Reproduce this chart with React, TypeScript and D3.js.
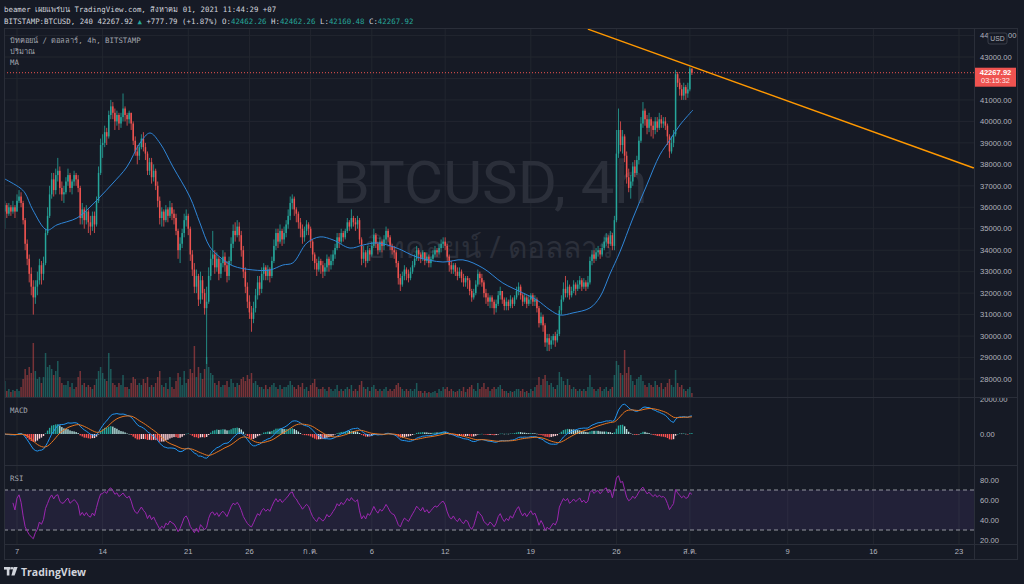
import React from "react";
import * as d3 from "d3";

const W = 1024;
const H = 584;
const START = Date.UTC(2021, 5, 6); // open time of first 4h candle
const BAR_MS = 4 * 3600 * 1000;

// ---- price data (thousands USD), 4h candles June 6 -> Aug 1 2021 ----
const firstOpen = 35.8;
const closes = [
  36.1, 35.7, 36.0, 35.8, 36.0, 35.8,
  36.3, 36.5, 36.2, 35.4, 34.3, 33.6,
  32.9, 32.3, 31.8, 32.3, 32.6, 33.3,
  32.9, 33.4, 34.8, 35.6, 36.6, 37.3,
  36.8, 37.5, 37.7, 36.9, 36.6, 36.7,
  37.2, 37.5, 36.9, 37.2, 37.5, 37.3,
  36.9, 35.5, 35.9, 35.4, 35.8, 35.3,
  35.1, 35.6, 35.2, 36.3, 37.6, 38.9,
  39.0, 39.5, 39.3, 40.3, 40.7, 40.4,
  40.0, 40.3, 39.9, 40.2, 40.6, 40.3,
  40.1, 40.4, 39.9, 39.1, 38.6, 38.4,
  38.8, 39.2, 38.8, 38.5, 37.7, 38.1,
  37.4, 37.7, 37.0, 36.3, 35.5, 35.8,
  35.4, 35.9, 35.6, 36.0, 35.7, 35.5,
  34.9, 34.0, 34.3, 34.8, 35.4, 35.6,
  35.0, 33.8, 33.1, 32.3, 32.8, 31.7,
  32.6, 32.0, 31.3, 31.6, 32.8, 33.6,
  33.8, 33.2, 33.6, 32.9, 33.4, 33.7,
  33.3, 32.8, 33.5, 34.3, 34.9, 34.7,
  35.1, 34.7, 34.0, 33.0, 32.3, 31.6,
  31.1, 30.8, 31.3, 31.9, 32.5, 32.2,
  32.9, 33.2, 32.8, 33.1, 32.8, 33.5,
  34.2, 34.8, 34.4, 34.9, 34.5, 34.8,
  35.2, 35.6, 36.2, 36.4, 35.9, 35.7,
  35.3, 35.0, 34.6, 34.9, 35.2, 35.0,
  34.4, 33.8, 33.4, 33.1, 33.5, 33.3,
  33.0, 33.2, 33.6, 33.3, 33.5, 33.8,
  34.1, 34.6, 34.4, 34.8, 34.6, 34.9,
  35.3, 35.1, 35.5, 35.3, 35.2, 35.4,
  34.5, 33.6, 33.9, 33.5, 34.0, 33.8,
  34.2, 34.7, 34.3, 34.0, 34.4, 34.2,
  34.5, 34.9, 34.6, 34.2, 34.0, 33.9,
  33.4, 32.7, 32.4, 32.8, 33.1, 32.9,
  32.7, 33.0, 33.3, 33.6, 34.0, 33.8,
  33.6, 33.9, 33.5, 33.7, 33.4, 33.6,
  33.8, 34.0, 33.9, 34.1, 34.3, 34.4,
  34.2, 33.7, 33.3, 33.1, 33.3, 33.0,
  32.8, 33.0, 32.7, 32.5, 32.7, 32.6,
  32.1, 31.8, 32.0, 32.4, 32.9, 32.7,
  32.5, 32.0, 31.8, 31.6, 31.8, 31.6,
  31.3, 31.5, 31.9, 32.1, 31.7, 31.4,
  31.6, 31.4, 31.7, 31.5, 31.8, 32.1,
  32.3, 31.9, 31.6, 31.8, 31.5, 31.7,
  31.9, 31.6, 31.7, 31.3, 30.6, 30.9,
  30.5, 29.7, 29.9, 29.6, 29.8, 30.0,
  29.8, 30.1, 31.2, 31.7, 32.2, 32.0,
  32.3, 31.9, 32.1, 32.4, 32.2, 32.4,
  32.6, 32.3, 32.5, 32.3, 32.5, 33.5,
  33.8, 33.6, 33.9, 34.0, 33.8, 34.1,
  34.4, 34.6, 34.3, 34.7, 34.2, 35.4,
  38.5, 39.6, 38.9, 39.3, 38.4, 37.4,
  36.9, 37.2, 37.9, 37.6, 38.2, 39.1,
  39.9, 40.5, 40.1, 39.7, 40.1, 39.8,
  39.6, 40.0, 39.7, 40.1, 39.9, 40.0,
  39.8, 39.3, 38.6, 39.0, 39.4, 42.2,
  41.8, 41.5, 41.2, 41.6, 41.3, 41.49013,
  42.46226, 42.26792,
];
const highs = [
  36.3, 36.2, 36.2, 36.1, 36.3, 36.1,
  36.6, 36.8, 36.7, 36.3, 35.5, 34.5,
  33.8, 33.2, 32.6, 32.6, 33.0, 33.6,
  33.5, 33.7, 35.0, 36.0, 37.0, 37.6,
  37.6, 37.8, 38.3, 37.9, 37.2, 37.0,
  37.4, 37.8, 37.6, 37.3, 37.7, 37.6,
  37.5, 37.0, 36.2, 36.0, 36.1, 35.9,
  35.6, 35.8, 35.8, 36.5, 37.9, 39.2,
  39.4, 39.8, 39.7, 40.5, 41.0, 40.9,
  40.6, 40.5, 40.4, 40.4, 41.3, 40.7,
  40.4, 40.5, 40.4, 40.0, 39.3, 38.9,
  39.0, 39.4, 39.5, 39.0, 38.6, 38.3,
  38.3, 38.0, 37.8, 37.2, 36.5, 36.0,
  35.9, 36.1, 36.0, 36.3, 36.2, 35.9,
  35.7, 35.0, 34.6, 35.0, 35.7, 35.9,
  35.7, 35.1, 34.0, 33.4, 33.1, 32.9,
  33.0, 32.8, 32.2, 32.3, 33.2, 34.0,
  34.9, 34.0, 33.9, 33.7, 33.6, 34.0,
  33.9, 33.5, 33.7, 34.6, 35.2, 35.3,
  35.4, 35.3, 34.9, 34.2, 33.2, 32.5,
  31.9, 31.4, 31.6, 32.2, 32.8, 32.8,
  33.2, 33.4, 33.3, 33.3, 33.2, 33.7,
  34.5, 35.0, 35.0, 35.2, 35.0, 35.1,
  35.4, 35.9, 36.5, 36.6, 36.5, 36.0,
  35.8, 35.5, 35.2, 35.1, 35.4, 35.3,
  35.1, 34.5, 33.9, 33.6, 33.7, 33.6,
  33.5, 33.4, 33.8, 33.7, 33.8, 34.0,
  34.3, 34.8, 34.8, 35.0, 34.9, 35.0,
  35.5, 35.4, 35.9, 35.6, 35.5, 35.6,
  35.5, 34.6, 34.2, 34.0, 34.2, 34.1,
  34.4, 35.0, 34.8, 34.4, 34.6, 34.5,
  34.7, 35.1, 35.0, 34.7, 34.3, 34.2,
  34.0, 33.5, 32.9, 33.0, 33.3, 33.2,
  33.1, 33.2, 33.5, 33.8, 34.2, 34.1,
  33.9, 34.0, 33.9, 33.9, 33.8, 33.7,
  34.0, 34.2, 34.1, 34.3, 34.5, 34.6,
  34.6, 34.3, 33.8, 33.5, 33.4, 33.4,
  33.2, 33.2, 33.1, 32.9, 32.8, 32.8,
  32.7, 32.2, 32.2, 32.6, 33.1, 33.0,
  32.9, 32.6, 32.2, 32.0, 31.9, 31.9,
  31.7, 31.7, 32.1, 32.3, 32.1, 31.8,
  31.8, 31.7, 31.9, 31.8, 31.9, 32.3,
  32.5, 32.4, 32.0, 32.0, 31.9, 31.9,
  32.0, 32.0, 31.9, 31.8, 31.4, 31.1,
  31.0, 30.6, 30.1, 30.1, 30.0, 30.1,
  30.2, 30.3, 31.4, 31.9, 32.5, 32.8,
  32.6, 32.4, 32.3, 32.6, 32.5, 32.6,
  32.8, 32.7, 32.7, 32.6, 32.8, 33.7,
  34.0, 34.0, 34.1, 34.2, 34.1, 34.3,
  34.6, 34.8, 34.7, 34.9, 34.8, 35.6,
  39.6, 40.6, 40.0, 39.6, 39.4, 38.6,
  37.8, 37.5, 38.1, 38.2, 38.4, 39.3,
  40.2, 40.9, 40.6, 40.3, 40.4, 40.2,
  40.0, 40.2, 40.2, 40.4, 40.3, 40.2,
  40.2, 39.9, 39.4, 39.3, 39.6, 42.4,
  42.3, 42.0, 41.7, 41.8, 41.7, 41.8,
  42.55, 42.46226,
];
const lows = [
  35.0, 35.5, 35.6, 35.6, 35.7, 35.5,
  35.8, 36.2, 36.0, 35.2, 34.0, 33.3,
  32.5, 31.9, 31.0, 31.5, 31.9, 32.4,
  32.4, 32.6, 33.3, 34.7, 35.5, 36.4,
  36.5, 36.6, 37.2, 36.6, 36.3, 36.2,
  36.6, 37.0, 36.7, 36.6, 37.0, 37.0,
  36.7, 35.2, 35.2, 35.0, 35.2, 34.8,
  34.7, 34.9, 34.8, 35.1, 36.2, 37.5,
  38.3, 38.8, 38.9, 39.2, 40.1, 40.1,
  39.6, 39.8, 39.6, 39.7, 40.0, 40.0,
  39.8, 39.9, 39.6, 38.9, 38.4, 38.0,
  38.2, 38.7, 38.6, 38.2, 37.5, 37.5,
  37.1, 37.2, 36.8, 36.0, 35.2, 35.1,
  35.1, 35.3, 35.3, 35.5, 35.4, 35.2,
  34.7, 33.6, 33.4, 34.1, 34.6, 35.1,
  34.7, 33.5, 32.8, 32.0, 32.0, 31.4,
  31.5, 31.7, 31.0, 28.7, 31.5, 32.6,
  33.3, 32.9, 33.0, 32.6, 32.7, 33.2,
  33.0, 32.5, 32.6, 33.3, 34.1, 34.4,
  34.6, 34.4, 33.7, 32.7, 32.0, 31.3,
  30.8, 30.2, 30.6, 31.1, 31.7, 31.9,
  32.0, 32.6, 32.6, 32.6, 32.5, 32.7,
  33.4, 34.0, 34.1, 34.3, 34.2, 34.3,
  34.6, 35.0, 35.4, 35.9, 35.6, 35.3,
  35.0, 34.6, 34.3, 34.4, 34.7, 34.7,
  34.1, 33.5, 33.1, 32.8, 33.0, 32.9,
  32.7, 32.8, 33.0, 33.0, 33.1, 33.3,
  33.6, 34.0, 34.1, 34.3, 34.4, 34.5,
  34.8, 34.9, 35.0, 35.1, 34.9, 35.0,
  34.3, 33.3, 33.4, 33.2, 33.4, 33.5,
  33.7, 34.1, 34.1, 33.8, 33.9, 33.9,
  34.0, 34.3, 34.4, 34.0, 33.8, 33.6,
  33.2, 32.4, 32.1, 32.3, 32.6, 32.6,
  32.5, 32.6, 32.9, 33.2, 33.5, 33.5,
  33.4, 33.5, 33.3, 33.4, 33.2, 33.2,
  33.5, 33.7, 33.7, 33.8, 33.9, 34.1,
  34.0, 33.5, 33.0, 32.9, 32.9, 32.8,
  32.6, 32.7, 32.5, 32.3, 32.3, 32.2,
  31.9, 31.6, 31.7, 31.9, 32.3, 32.4,
  32.3, 31.8, 31.5, 31.4, 31.3, 31.3,
  31.0, 31.1, 31.4, 31.7, 31.5, 31.2,
  31.2, 31.2, 31.3, 31.3, 31.4, 31.7,
  31.9, 31.7, 31.4, 31.5, 31.3, 31.4,
  31.5, 31.4, 31.4, 31.1, 30.4, 30.5,
  30.2, 29.5, 29.3, 29.3, 29.4, 29.6,
  29.5, 29.7, 30.0, 31.0, 31.6, 31.8,
  31.8, 31.7, 31.8, 32.0, 31.9, 32.1,
  32.2, 32.1, 32.2, 32.1, 32.2, 32.4,
  33.3, 33.4, 33.5, 33.7, 33.6, 33.7,
  34.0, 34.2, 34.1, 34.2, 34.0, 34.0,
  35.3, 38.3, 38.6, 38.5, 38.1, 37.1,
  36.7, 36.4, 37.0, 37.4, 37.5, 38.0,
  39.0, 39.7, 39.8, 39.4, 39.5, 39.3,
  39.2, 39.4, 39.5, 39.6, 39.7, 39.7,
  39.6, 38.9, 38.3, 38.5, 38.8, 39.3,
  41.6, 41.2, 41.0, 41.0, 41.0, 41.1,
  41.4, 42.16048,
];
// volume (relative units)
const volumes = [
  16, 6, 8, 5, 7, 6, 8, 6, 10, 18, 28, 22, 30, 24, 54, 26, 18, 20,
  14, 20, 44, 30, 32, 28, 22, 26, 36, 20, 14, 12, 12, 16, 10, 14, 8, 10,
  20, 26, 12, 14, 10, 12, 10, 8, 12, 18, 26, 30, 24, 18, 16, 44, 28, 14,
  12, 10, 14, 12, 22, 10, 10, 8, 14, 20, 18, 12, 14, 12, 18, 14, 20, 10,
  12, 10, 14, 20, 26, 12, 10, 14, 8, 20, 10, 8, 16, 24, 20, 12, 26, 14,
  18, 28, 24, 51, 20, 30, 24, 18, 28, 40, 30, 24, 22, 14, 12, 16, 10, 12,
  12, 16, 10, 18, 14, 10, 14, 12, 18, 20, 16, 22, 18, 24, 14, 16, 12, 10,
  10, 8, 12, 8, 10, 12, 14, 10, 8, 12, 8, 10, 10, 12, 16, 12, 10, 8,
  12, 10, 14, 8, 10, 6, 12, 14, 18, 10, 8, 8, 10, 8, 6, 10, 8, 6,
  8, 12, 6, 8, 6, 8, 10, 8, 12, 6, 8, 6, 12, 16, 10, 8, 10, 6,
  10, 12, 8, 6, 8, 6, 8, 10, 6, 8, 6, 8, 12, 14, 10, 8, 6, 8,
  6, 8, 6, 8, 14, 6, 6, 4, 6, 4, 5, 4, 5, 6, 4, 8, 6, 10,
  8, 10, 6, 8, 6, 5, 6, 8, 6, 10, 5, 8, 10, 12, 8, 6, 14, 8,
  10, 14, 8, 10, 6, 8, 10, 8, 10, 12, 8, 6, 6, 4, 6, 5, 6, 8,
  8, 6, 8, 5, 6, 4, 8, 6, 10, 12, 20, 12, 18, 22, 16, 12, 14, 10,
  8, 12, 25, 20, 16, 12, 18, 12, 8, 10, 8, 6, 8, 6, 8, 6, 10, 22,
  10, 8, 6, 8, 10, 6, 8, 10, 6, 8, 10, 22, 36, 32, 24, 22, 47, 24,
  30, 22, 16, 12, 18, 20, 22, 16, 12, 10, 14, 12, 10, 16, 12, 10, 14, 8,
  10, 14, 18, 12, 10, 27, 14, 10, 12, 8, 6, 8, 10, 4,
];
// MA line: candle index / value (thousands)
const maIndex = [0, 7.5, 9.9, 13.8, 20.7, 25.6, 35.4, 41.8, 46.7, 53.1, 59.9, 66.3, 71.2, 76.1, 82.5, 90.8, 95.7, 100.6, 105.5, 111.9, 121.7, 130.1, 136.4, 141.3, 148.2, 154.6, 161.0, 169.3, 175.7, 182.5, 192.3, 202.2, 214.9, 224.7, 234.5, 244.3, 254.1, 261.0, 267.4, 272.3, 278.7, 287.0, 291.9, 296.8, 301.7, 308.1, 314.9, 321.3, 326.2, 331.1, 337.5];
const maValue = [37.32, 36.9, 36.67, 35.87, 34.94, 35.18, 35.5, 36.01, 36.48, 37.13, 37.88, 38.99, 39.46, 38.99, 37.88, 36.48, 35.27, 34.15, 33.68, 33.27, 33.08, 33.08, 33.31, 33.41, 34.34, 34.62, 34.48, 34.1, 34.24, 34.34, 34.1, 33.68, 33.45, 33.55, 33.17, 32.47, 32.01, 31.68, 31.22, 30.98, 31.08, 31.31, 31.82, 32.89, 33.92, 35.5, 37.04, 38.44, 39.13, 39.83, 40.53];

const priceTicks = [44000, 43000, 42000, 41000, 40000, 39000, 38000, 37000, 36000, 35000, 34000, 33000, 32000, 31000, 30000, 29000, 28000];
const macdTicks = [2000, 0];
const rsiTicks = [80, 60, 40, 20];
const dateTickDates = ["2021-06-07", "2021-06-14", "2021-06-21", "2021-06-26", "2021-07-01", "2021-07-06", "2021-07-12", "2021-07-19", "2021-07-26", "2021-08-01", "2021-08-09", "2021-08-16", "2021-08-23"];
const dateTickLabels = ["7", "14", "21", "26", "ก.ค.", "6", "12", "19", "26", "ส.ค.", "9", "16", "23"];
const trendDates = ["2021-07-23T16:00:00Z", "2021-08-24T05:00:00Z"];
const trendPrices = [44300, 37830];
const lastPrice = 42267.92;

const BG = "#161a25";
const GRID = "#22262f";
const BORDER = "#2a2e39";
const UP = "#26a69a";
const DOWN = "#ef5350";
const TXT = "#b2b5be";
const MONO = "'DejaVu Sans Mono', monospace";
const SANS = "'Liberation Sans', Arial, sans-serif";

function ema(arr: number[], n: number): number[] {
  const k = 2 / (n + 1);
  const out: number[] = [];
  arr.forEach((v, i) => out.push(i === 0 ? v : v * k + out[i - 1] * (1 - k)));
  return out;
}

export default function App() {
  const n = closes.length;
  const opens = closes.map((c, i) => (i === 0 ? firstOpen : closes[i - 1]));
  const x = d3.scaleUtc().domain([new Date(Date.UTC(2021, 5, 7)), new Date(Date.UTC(2021, 7, 23))]).range([17, 959]);
  const xi = (i: number) => x(new Date(START + i * BAR_MS));
  const yP = d3.scaleLinear().domain([28000, 43000]).range([379, 57]);
  const yV = d3.scaleLinear().domain([0, 60]).range([397, 337]);
  const yM = d3.scaleLinear().domain([0, 2000]).range([434, 399]);
  const yR = d3.scaleLinear().domain([20, 80]).range([540, 480]);

  const px = closes.map((c) => c * 1000);
  const e12 = ema(px, 12);
  const e26 = ema(px, 26);
  const macd = e12.map((v, i) => v - e26[i]);
  const signal = ema(macd, 9);
  const hist = macd.map((v, i) => v - signal[i]);

  // RSI 14 (Wilder)
  const rsi: (number | null)[] = [];
  let ag = 0, al = 0;
  for (let i = 0; i < n; i++) {
    const prev = i === 0 ? firstOpen * 1000 : px[i - 1];
    const ch = px[i] - prev;
    const g = Math.max(ch, 0), l = Math.max(-ch, 0);
    if (i < 14) {
      ag = (ag * i + g) / (i + 1);
      al = (al * i + l) / (i + 1);
    } else {
      ag = (ag * 13 + g) / 14;
      al = (al * 13 + l) / 14;
    }
    rsi.push(i < 4 ? null : al === 0 ? 100 : 100 - 100 / (1 + ag / al));
  }

  const lineM = d3.line<number>().x((_, i) => xi(i)).y((v) => yM(v));
  const rsiLine = d3
    .line<number | null>()
    .defined((v) => v !== null)
    .x((_, i) => xi(i))
    .y((v) => yR(v as number));
  const maLine = d3
    .line<number>()
    .x((_, k) => xi(maIndex[k]))
    .y((v) => yP(v * 1000))
    .curve(d3.curveCatmullRom.alpha(0.5));

  const bw = 1.5;
  const plotL = 4, plotR = 974, right = 1018;
  const mainT = 28, mainB = 397, macdB = 465, rsiB = 544, axB = 560;

  const tx0 = x(new Date(trendDates[0]));
  const tx1 = x(new Date(trendDates[1]));

  const boxTop = yP(lastPrice) - 5;
  const boxBot = boxTop + 19;
  const badgeBot = 44;
  // axis labels hidden behind the last-price box are not drawn (as in TradingView);
  // the top label is partially covered by the USD badge
  const visibleTicks = priceTicks.filter((p) => {
    const yy = yP(p);
    return !(yy > boxTop - 3 && yy < boxBot + 3) && yy > badgeBot;
  });
  const topTick = priceTicks.filter((p) => yP(p) <= badgeBot && yP(p) > mainT);

  return (
    <div style={{ position: "absolute", left: 0, top: 0, width: W, height: H }}>
      <svg width={W} height={H} style={{ display: "block" }}>
        <defs>
          <clipPath id="cMain"><rect x={plotL} y={mainT} width={plotR - plotL} height={mainB - mainT} /></clipPath>
          <clipPath id="cMacd"><rect x={plotL} y={mainB + 1} width={right - plotL} height={macdB - mainB - 1} /></clipPath>
          <clipPath id="cRsi"><rect x={plotL} y={macdB + 1} width={right - plotL} height={rsiB - macdB - 1} /></clipPath>
          <clipPath id="cMainAx"><rect x={plotR} y={mainT} width={right - plotR} height={mainB - mainT} /></clipPath>
        </defs>
        <rect x={0} y={0} width={W} height={H} fill={BG} />

        {/* header */}
        <text x={4} y={12} fontFamily={MONO} fontSize={7.4} fill="#d1d4dc">
          beamer เผยแพร่บน TradingView.com, สิงหาคม 01, 2021 11:44:29 +07
        </text>
        <text x={4} y={24} fontFamily={MONO} fontSize={7.4} fill="#d1d4dc">
          <tspan>BITSTAMP:BTCUSD, 240 42267.92 </tspan>
          <tspan fill={UP}>▲</tspan>
          <tspan> +777.79 (+1.87%) O:</tspan>
          <tspan fill={UP}>42462.26</tspan>
          <tspan> H:</tspan>
          <tspan fill={UP}>42462.26</tspan>
          <tspan> L:</tspan>
          <tspan fill={UP}>42160.48</tspan>
          <tspan> C:</tspan>
          <tspan fill={UP}>42267.92</tspan>
        </text>

        {/* grid */}
        {dateTickDates.map((d, k) => {
          const xx = x(new Date(d + "T00:00:00Z"));
          return <line key={"vg" + k} x1={xx} x2={xx} y1={mainT} y2={rsiB} stroke={GRID} strokeWidth={1} />;
        })}
        <g clipPath="url(#cMain)">
          {priceTicks.map((p) => (
            <line key={"hg" + p} x1={plotL} x2={plotR} y1={yP(p)} y2={yP(p)} stroke={GRID} strokeWidth={1} />
          ))}
        </g>

        {/* watermark */}
        <text x={490} y={203} textAnchor="middle" fontFamily="Roboto, 'Noto Sans', sans-serif" fontSize={60} fill="#2b2f3a">
          BTCUSD, 4h
        </text>
        <text x={490} y={258} textAnchor="middle" fontFamily="'Noto Sans', 'DejaVu Sans', sans-serif" fontSize={30} fill="#2b2f3a">
          บิทคอยน์ / ดอลลาร์
        </text>

        {/* main pane */}
        <g clipPath="url(#cMain)">
          {volumes.map((v, i) => (
            <rect key={"v" + i} x={xi(i) - bw / 2} y={yV(v)} width={bw} height={yV(0) - yV(v)}
              fill={closes[i] >= opens[i] ? UP : DOWN} fillOpacity={0.45} />
          ))}
          {closes.map((c, i) => {
            const o = opens[i];
            const col = c >= o ? UP : DOWN;
            const hi = Math.max(highs[i], o, c) * 1000;
            const lo = Math.min(lows[i], o, c) * 1000;
            const top = yP(Math.max(o, c) * 1000);
            const bot = yP(Math.min(o, c) * 1000);
            return (
              <g key={"c" + i}>
                <line x1={xi(i)} x2={xi(i)} y1={yP(hi)} y2={yP(lo)} stroke={col} strokeWidth={0.8} />
                <rect x={xi(i) - bw / 2} y={top} width={bw} height={Math.max(bot - top, 0.8)} fill={col} />
              </g>
            );
          })}
          <path d={maLine(maValue) || ""} fill="none" stroke="#2f86d8" strokeWidth={1} />
          <line x1={plotL} x2={plotR} y1={yP(lastPrice)} y2={yP(lastPrice)} stroke={DOWN} strokeWidth={1} strokeDasharray="1,2" />
          <line x1={tx0} y1={yP(trendPrices[0])} x2={tx1} y2={yP(trendPrices[1])} stroke="#ff9800" strokeWidth={1.5} />
        </g>

        {/* legend */}
        <g fontFamily={MONO} fontSize={7.4} fill="#a3a6af">
          <text x={10} y={43}>บิทคอยน์ / ดอลลาร์, 4h, BITSTAMP</text>
          <text x={10} y={54}>ปริมาณ</text>
          <text x={10} y={65}>MA</text>
        </g>

        {/* MACD pane */}
        <g clipPath="url(#cMacd)">
          {hist.map((h, i) => {
            const prev = i === 0 ? 0 : hist[i - 1];
            const col = h >= 0 ? (h > prev ? UP : "#b2dfdb") : h < prev ? "#ff5252" : "#ffcdd2";
            const y0 = yM(0), y1 = yM(h);
            return <rect key={"h" + i} x={xi(i) - 0.7} y={Math.min(y0, y1)} width={1.4} height={Math.max(Math.abs(y1 - y0), 0.5)} fill={col} />;
          })}
          <path d={lineM(macd) || ""} fill="none" stroke="#2196f3" strokeWidth={1} />
          <path d={lineM(signal) || ""} fill="none" stroke="#e8761f" strokeWidth={1} />
          {macdTicks.map((t) => (
            <text key={"mt" + t} x={980} y={yM(t) + 2.7} fontFamily={SANS} fontSize={7.6} fill={TXT}>{t.toFixed(2)}</text>
          ))}
        </g>
        <text x={10} y={413} fontFamily={MONO} fontSize={7.4} fill="#a3a6af">MACD</text>

        {/* RSI pane */}
        <g clipPath="url(#cRsi)">
          <rect x={plotL} y={yR(70)} width={plotR - plotL} height={yR(30) - yR(70)} fill="#7e57c2" fillOpacity={0.12} />
          <line x1={plotL} x2={plotR} y1={yR(70)} y2={yR(70)} stroke="#9598a1" strokeDasharray="4,3" strokeWidth={1} />
          <line x1={plotL} x2={plotR} y1={yR(30)} y2={yR(30)} stroke="#9598a1" strokeDasharray="4,3" strokeWidth={1} />
          <path d={rsiLine(rsi) || ""} fill="none" stroke="#9c27b0" strokeWidth={1} />
          {rsiTicks.map((t) => (
            <text key={"rt" + t} x={980} y={yR(t) + 2.7} fontFamily={SANS} fontSize={7.6} fill={TXT}>{t.toFixed(2)}</text>
          ))}
        </g>
        <text x={10} y={481} fontFamily={MONO} fontSize={7.4} fill="#a3a6af">RSI</text>

        {/* price axis */}
        <g clipPath="url(#cMainAx)">
          {visibleTicks.map((p) => (
            <text key={"pt" + p} x={980} y={yP(p) + 2.7} fontFamily={SANS} fontSize={7.6} fill={TXT}>{p.toFixed(2)}</text>
          ))}
          {topTick.map((p) => {
            const s = p.toFixed(0);
            return (
              <g key={"tt" + p}>
                <text x={980} y={yP(p) + 2.7} fontFamily={SANS} fontSize={7.6} fill={TXT}>{s.slice(0, 2)}</text>
                <text x={1008} y={yP(p) + 2.7} fontFamily={SANS} fontSize={7.6} fill={TXT}>{s.slice(-2)}</text>
              </g>
            );
          })}
        </g>
        <rect x={988} y={33} width={19} height={11} rx={2} fill={BG} stroke="#434651" strokeWidth={0.8} />
        <text x={997.5} y={41} textAnchor="middle" fontFamily={SANS} fontSize={6.8} fill={TXT}>USD</text>
        <rect x={975} y={boxTop} width={41} height={19} fill={DOWN} />
        <text x={995.5} y={yP(lastPrice) + 2.7} textAnchor="middle" fontFamily={SANS} fontSize={7.6} fontWeight="bold" fill="#ffffff">42267.92</text>
        <text x={995.5} y={yP(lastPrice) + 10.5} textAnchor="middle" fontFamily={SANS} fontSize={7.4} fill="#ffe9e9">03:15:32</text>

        {/* time axis */}
        {dateTickDates.map((d, k) => {
          const xx = x(new Date(d + "T00:00:00Z"));
          return (
            <text key={"dt" + k} x={xx} y={554} textAnchor="middle" fontFamily={SANS} fontSize={7.6} fill={TXT}>{dateTickLabels[k]}</text>
          );
        })}

        {/* frame & separators */}
        <rect x={plotL + 0.5} y={mainT + 0.5} width={right - plotL - 1} height={axB - mainT - 1} fill="none" stroke={BORDER} strokeWidth={1} />
        <line x1={plotR + 0.5} x2={plotR + 0.5} y1={mainT} y2={axB} stroke={BORDER} />
        <line x1={plotL} x2={right} y1={mainB + 0.5} y2={mainB + 0.5} stroke={BORDER} />
        <line x1={plotL} x2={right} y1={macdB + 0.5} y2={macdB + 0.5} stroke={BORDER} />
        <line x1={plotL} x2={right} y1={rsiB + 0.5} y2={rsiB + 0.5} stroke={BORDER} />

        {/* TradingView logo */}
        <g fill="#d1d4dc">
          <rect x={4} y={567} width={6.5} height={2.6} />
          <rect x={6.8} y={567} width={2.6} height={8.5} />
          <circle cx={12} cy={568.3} r={1.3} />
          <polygon points="13.6,567 17.6,567 14.6,575.5 11.4,575.5" />
        </g>
        <text x={21} y={575.5} fontFamily="'Open Sans', Roboto, sans-serif" fontWeight="bold" fontSize={10.5} fill="#d1d4dc">TradingView</text>
      </svg>
    </div>
  );
}
